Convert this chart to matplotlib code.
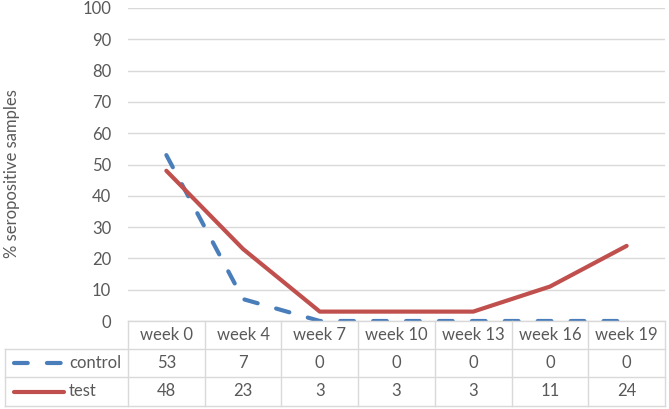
import matplotlib.pyplot as plt
from matplotlib.lines import Line2D

plt.rcParams['font.family'] = ['Lato', 'DejaVu Sans']

weeks = ["week 0", "week 4", "week 7", "week 10", "week 13", "week 16", "week 19"]
control = [53, 7, 0, 0, 0, 0, 0]
test = [48, 23, 3, 3, 3, 11, 24]
series_names = ["control", "test"]

BLUE = "#4a7ebb"
RED = "#c0504d"
TEXT = "#595959"
GRID = "#d9d9d9"
FS = 12
DASH = (3.3, 4.6)

W, H = 669, 409
fig = plt.figure(figsize=(W / 100, H / 100), dpi=100)

left, right = 128, 665
top, bottom = 8, 321
ax = fig.add_axes([left / W, 1 - bottom / H, (right - left) / W, (bottom - top) / H])

x = list(range(len(weeks)))
ax.plot(x, control, color=BLUE, lw=3.0, dashes=DASH,
        dash_capstyle='round', solid_capstyle='round')
ax.plot(x, test, color=RED, lw=3.0, solid_capstyle='round')

ax.set_xlim(-0.5, len(weeks) - 0.5)
ax.set_ylim(0, 100)
ax.set_yticks(range(0, 101, 10))
ax.set_xticks([])
ax.yaxis.grid(True, color=GRID, lw=1)
ax.set_axisbelow(True)
for s in ax.spines.values():
    s.set_visible(False)
ax.tick_params(axis='y', length=0, pad=12, labelsize=FS, labelcolor=TEXT)
fig.text(12 / W, 1 - 174 / H, "% seropositive samples", rotation=90,
         ha='center', va='center', fontsize=FS, color=TEXT)

# data table below the plot
col_w = (right - left) / len(weeks)
row_h = [321, 349, 377, 406]
tbl_left = 5


def fx(px):
    return px / W


def fy(py):
    return 1 - py / H


def hline(x0, x1, y):
    fig.add_artist(Line2D([fx(x0), fx(x1)], [fy(y), fy(y)], color=GRID, lw=1))


def vline(xp, y0, y1):
    fig.add_artist(Line2D([fx(xp), fx(xp)], [fy(y0), fy(y1)], color=GRID, lw=1))


hline(left, right, row_h[0])
for y in row_h[1:]:
    hline(tbl_left, right, y)
vline(tbl_left, row_h[1], row_h[3])
for i in range(len(weeks) + 1):
    vline(left + i * col_w, row_h[0], row_h[3])

for i, wk in enumerate(weeks):
    cx = left + (i + 0.5) * col_w
    fig.text(fx(cx), fy((row_h[0] + row_h[1]) / 2), wk, ha='center', va='center',
             fontsize=FS, color=TEXT)

rows = [control, test]
colors = [BLUE, RED]
for r, (name, vals, c) in enumerate(zip(series_names, rows, colors)):
    yc = (row_h[r + 1] + row_h[r + 2]) / 2
    for i, v in enumerate(vals):
        cx = left + (i + 0.5) * col_w
        fig.text(fx(cx), fy(yc), str(v), ha='center', va='center',
                 fontsize=FS, color=TEXT)
    fig.text(fx(69), fy(yc), name, ha='left', va='center', fontsize=FS, color=TEXT)
    if r == 0:
        fig.add_artist(Line2D([fx(14), fx(62)], [fy(yc), fy(yc)], color=c, lw=3.0,
                              dashes=DASH, dash_capstyle='round'))
    else:
        fig.add_artist(Line2D([fx(14), fx(64)], [fy(yc), fy(yc)], color=c, lw=3.0,
                              solid_capstyle='round'))

fig.savefig("out.png", dpi=100)
